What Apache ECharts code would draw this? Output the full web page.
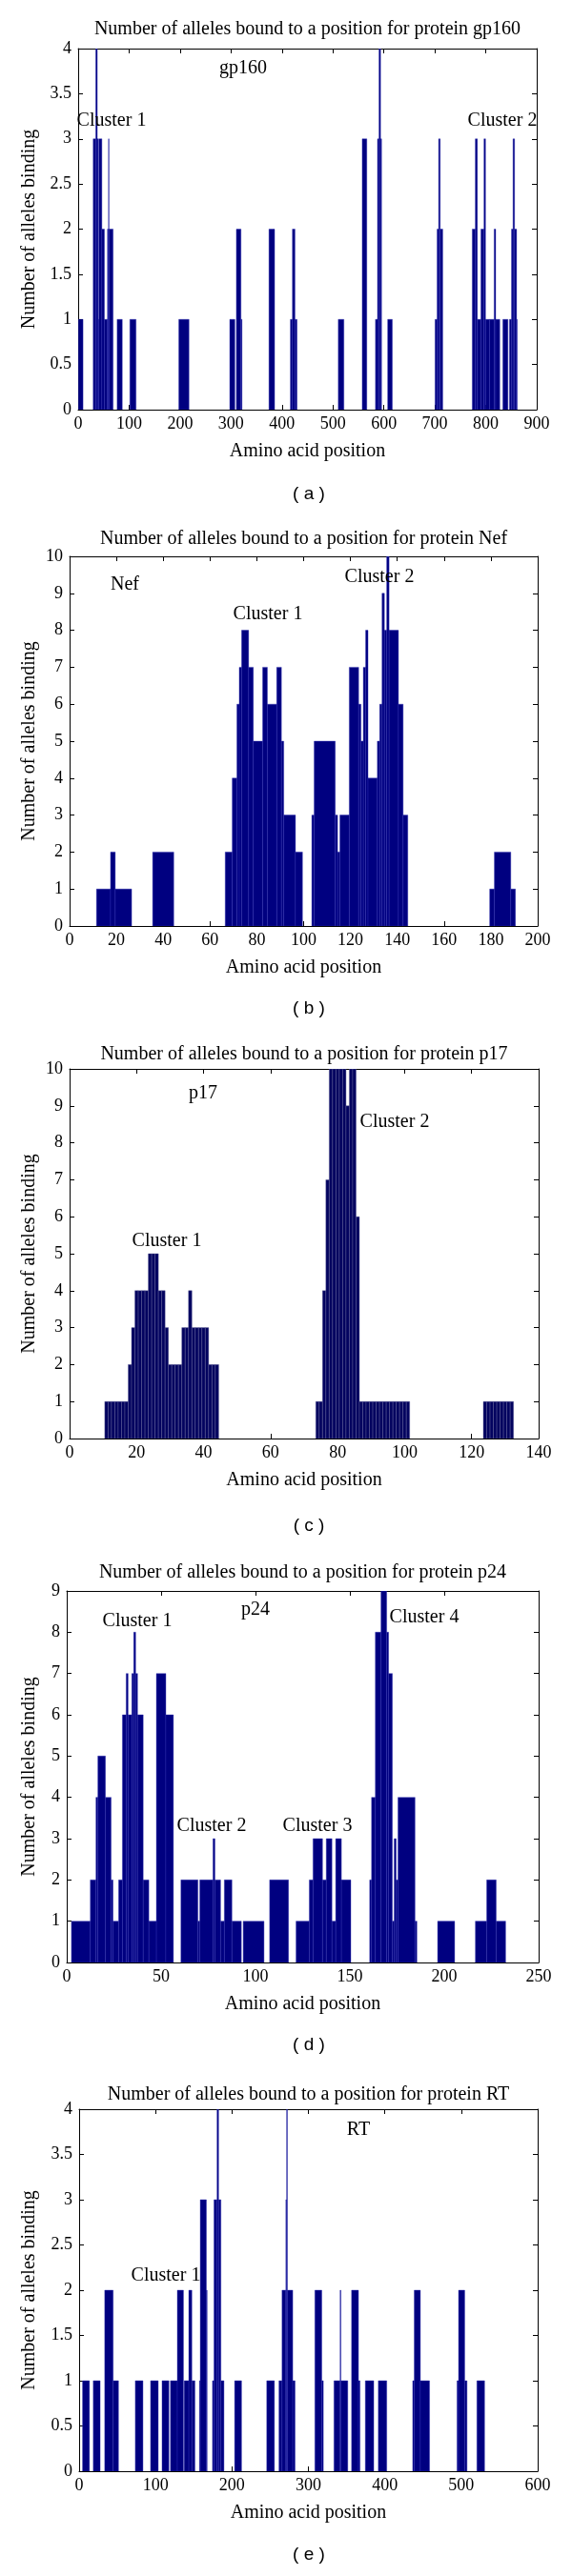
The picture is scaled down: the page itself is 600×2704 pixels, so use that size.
<!DOCTYPE html>
<html>
<head>
<meta charset="utf-8">
<script src="https://cdn.jsdelivr.net/npm/echarts@6/dist/echarts.min.js"></script>
<style>
  html, body { margin: 0; padding: 0; background: #fff; }
  #chart { width: 600px; height: 2704px; }
</style>
</head>
<body>
<div id="chart"></div>
<script>
// ---------- DATA (runs of consecutive amino-acid positions: first pos, last pos, count) ----------
// (a) gp160
const gp160Start = [1,30,35,38,40,41,47,52,58,60,61,77,102,198,298,311,320,375,417,421,426,511,558,584,588,591,594,608,701,705,708,711,774,780,784,791,797,800,808,817,820,834,847,851,854,857,861];
const gp160End   = [9,34,37,39,40,46,51,57,59,60,68,86,113,217,307,319,321,385,420,425,429,521,566,587,590,593,595,616,704,707,710,715,779,783,790,796,799,807,816,819,827,843,850,853,856,860,861];
const gp160Value = [1,3,4,3,1,3,2,1,2,3,2,1,1,1,1,2,1,2,1,2,1,1,3,1,3,4,3,1,1,2,3,2,2,3,1,2,3,1,1,2,1,1,1,2,3,2,1];

// (b) Nef
const nefStart = [12,18,20,36,67,70,72,73,74,77,79,83,85,89,91,92,97,104,105,114,115,116,120,124,125,126,127,128,132,133,134,135,136,137,141,143,180,182,189];
const nefEnd   = [17,19,26,44,69,71,72,73,76,78,82,84,88,90,91,96,99,104,113,114,115,119,123,124,125,126,127,131,132,133,134,135,136,140,142,144,181,188,190];
const nefValue = [1,2,1,2,2,4,6,7,8,7,5,7,6,7,5,3,2,3,5,3,2,3,7,6,5,7,8,4,5,6,9,8,10,8,6,3,1,2,1];

// (c) p17
const p17Start = [11,18,19,20,24,27,29,30,34,36,37,42,74,76,77,78,83,84,86,87,124];
const p17End   = [17,18,19,23,26,28,29,33,35,36,41,44,75,76,77,82,83,85,86,101,132];
const p17Value = [1,2,3,4,5,4,3,2,3,4,3,2,1,4,7,10,9,10,6,1,1];

// (d) p24
const p24Start = [3,13,16,17,21,24,25,28,30,32,33,35,36,37,38,41,44,48,53,61,70,71,78,79,82,84,88,94,108,122,129,131,136,138,141,143,146,161,162,164,167,170,171,173,174,175,176,185,197,217,223,228];
const p24End   = [12,15,16,20,23,24,27,29,31,32,34,35,36,37,40,43,47,52,56,69,70,77,78,81,83,87,92,104,117,128,130,135,137,140,142,145,150,161,163,166,169,170,172,173,174,175,184,185,205,222,227,232];
const p24Value = [1,2,4,5,4,2,1,2,6,7,6,7,8,7,6,2,1,7,6,2,1,2,3,2,1,2,1,1,2,1,2,3,2,3,1,3,2,2,4,8,9,8,7,1,3,2,4,1,1,1,2,1];

// (e) RT
const rtStart = [5,19,34,45,74,94,109,120,129,138,144,148,158,159,167,175,177,181,183,186,204,246,262,266,271,272,273,280,309,318,334,342,343,357,366,375,392,437,439,447,495,497,505,521];
const rtEnd   = [13,27,44,51,83,103,117,128,136,143,147,151,158,166,167,176,180,182,185,189,212,255,265,270,271,272,279,282,317,319,341,342,351,365,367,385,402,438,446,458,496,504,507,530];
const rtValue = [1,1,2,1,1,1,1,1,2,1,2,1,1,3,2,1,3,4,3,1,1,1,1,2,3,4,2,1,2,1,1,2,1,2,1,1,1,1,2,1,1,2,1,1];

// axis ranges / tick steps
const xMax = [900, 200, 140, 250, 600];
const xStep = [100, 20, 20, 50, 100];
const yMax = [4, 10, 10, 9, 4];
const yStep = [0.5, 1, 1, 1, 0.5];

const proteins = ['gp160', 'Nef', 'p17', 'p24', 'RT'];
const panelTags = ['( a )', '( b )', '( c )', '( d )', '( e )'];
const xAxisName = 'Amino acid position';
const yAxisName = 'Number of alleles binding';

// annotations inside plots: [panel, text]
const noteTexts = [
  [0, 'gp160'], [0, 'Cluster 1'], [0, 'Cluster 2'],
  [1, 'Nef'], [1, 'Cluster 1'], [1, 'Cluster 2'],
  [2, 'p17'], [2, 'Cluster 1'], [2, 'Cluster 2'],
  [3, 'p24'], [3, 'Cluster 1'], [3, 'Cluster 2'], [3, 'Cluster 3'], [3, 'Cluster 4'],
  [4, 'Cluster 1'], [4, 'RT']
];

// ---------- LAYOUT ----------
const grids = [
  { left: 82, top: 51,   width: 481, height: 379 },
  { left: 73, top: 584,  width: 491, height: 388 },
  { left: 73, top: 1122, width: 492, height: 388 },
  { left: 70, top: 1670, width: 495, height: 390 },
  { left: 83, top: 2214, width: 481, height: 380 }
];
const titleY = [31, 566, 1107, 1651, 2199];
const tagY = [519, 1059, 1602, 2147, 2682];
const yNameX = 31;
const xNameDrop = 44;
const notePos = [
  [255, 72], [117, 127], [527, 127],
  [131, 614], [281, 645], [398, 606],
  [213, 1148], [175, 1303], [414, 1178],
  [268, 1690], [144, 1702], [222, 1917], [333, 1917], [445, 1698],
  [174, 2389], [376, 2236]
];

const SERIF = "'Liberation Serif', 'DejaVu Serif', serif";
const SANS = "'Liberation Sans', 'DejaVu Sans', sans-serif";
const NAVY = '#000080';

const runData = [
  [gp160Start, gp160End, gp160Value],
  [nefStart, nefEnd, nefValue],
  [p17Start, p17End, p17Value],
  [p24Start, p24End, p24Value],
  [rtStart, rtEnd, rtValue]
];

function buildRuns(arrs) {
  const [s, e, v] = arrs;
  return s.map((st, i) => [st, e[i], v[i]]);
}

function runRenderer(fill) {
  return function (params, api) {
    const s = api.value(0), e = api.value(1), v = api.value(2);
    const tl = api.coord([s - 0.5, v]);
    const br = api.coord([e + 0.5, 0]);
    return {
      type: 'rect',
      shape: { x: tl[0], y: tl[1], width: br[0] - tl[0], height: br[1] - tl[1] },
      style: { fill: fill, stroke: '#2b2bb0', lineWidth: 0.4 }
    };
  };
}

function barEachRenderer(fill, edge) {
  return function (params, api) {
    const s = api.value(0), e = api.value(1), v = api.value(2);
    const children = [];
    for (let p = s; p <= e; p++) {
      const tl = api.coord([p - 0.5, v]);
      const br = api.coord([p + 0.5, 0]);
      children.push({
        type: 'rect',
        shape: { x: tl[0], y: tl[1], width: br[0] - tl[0], height: br[1] - tl[1] },
        style: { fill: fill, stroke: edge, lineWidth: 0.45 }
      });
    }
    return { type: 'group', children: children };
  };
}

const xAxes = [], yAxes = [], series = [], graphics = [];

grids.forEach((g, i) => {
  const axisLine = { show: true, onZero: false, lineStyle: { color: '#000', width: 1 } };
  const axisTick = { show: true, inside: true, length: 5, lineStyle: { color: '#000', width: 1 } };
  xAxes.push({
    gridIndex: i, type: 'value', position: 'bottom', min: 0, max: xMax[i], interval: xStep[i],
    axisLine, axisTick, splitLine: { show: false },
    axisLabel: { color: '#000', fontFamily: SERIF, fontSize: 18, margin: 6, showMinLabel: true, showMaxLabel: true }
  });
  xAxes.push({
    gridIndex: i, type: 'value', position: 'top', min: 0, max: xMax[i], interval: xStep[i],
    axisLine, axisTick, splitLine: { show: false }, axisLabel: { show: false }
  });
  yAxes.push({
    gridIndex: i, type: 'value', position: 'left', min: 0, max: yMax[i], interval: yStep[i],
    axisLine, axisTick, splitLine: { show: false },
    axisLabel: { color: '#000', fontFamily: SERIF, fontSize: 18, margin: 7, showMinLabel: true, showMaxLabel: true }
  });
  yAxes.push({
    gridIndex: i, type: 'value', position: 'right', min: 0, max: yMax[i], interval: yStep[i],
    axisLine, axisTick, splitLine: { show: false }, axisLabel: { show: false }
  });

  series.push({
    type: 'custom',
    name: proteins[i],
    xAxisIndex: 2 * i, yAxisIndex: 2 * i,
    data: buildRuns(runData[i]),
    encode: { x: [0, 1], y: 2 },
    clip: true,
    silent: true,
    renderItem: i === 2 ? barEachRenderer('#03035f', '#5c5c95') : runRenderer(NAVY)
  });

  // title
  graphics.push({
    type: 'text', x: g.left + g.width / 2, y: titleY[i], silent: true,
    style: {
      text: 'Number of alleles bound to a position for protein ' + proteins[i],
      font: '20px ' + SERIF, fill: '#000', textAlign: 'center', textVerticalAlign: 'middle'
    }
  });
  // x axis name
  graphics.push({
    type: 'text', x: g.left + g.width / 2, y: g.top + g.height + xNameDrop, silent: true,
    style: { text: xAxisName, font: '20px ' + SERIF, fill: '#000', textAlign: 'center', textVerticalAlign: 'middle' }
  });
  // y axis name
  graphics.push({
    type: 'text', x: yNameX, y: g.top + g.height / 2, rotation: Math.PI / 2, silent: true,
    style: { text: yAxisName, font: '20px ' + SERIF, fill: '#000', textAlign: 'center', textVerticalAlign: 'middle' }
  });
  // panel tag
  graphics.push({
    type: 'text', x: 324, y: tagY[i], silent: true,
    style: { text: panelTags[i], font: '19px ' + SANS, fill: '#000', textAlign: 'center', textVerticalAlign: 'middle' }
  });
});

noteTexts.forEach((n, k) => {
  graphics.push({
    type: 'text', x: notePos[k][0], y: notePos[k][1], silent: true, z: 100,
    style: { text: n[1], font: '20px ' + SERIF, fill: '#000', textAlign: 'center', textVerticalAlign: 'middle' }
  });
});

const chart = echarts.init(document.getElementById('chart'), null, { renderer: 'canvas' });
chart.setOption({
  animation: false,
  backgroundColor: '#fff',
  grid: grids.map(g => Object.assign({ containLabel: false }, g)),
  xAxis: xAxes,
  yAxis: yAxes,
  series: series,
  graphic: graphics
});
</script>
</body>
</html>
